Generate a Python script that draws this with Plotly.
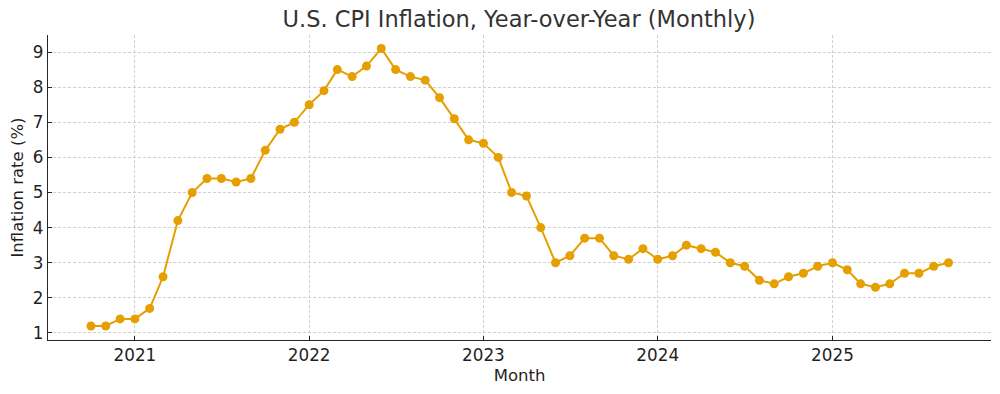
import plotly.graph_objects as go
import pandas as pd

months = pd.date_range("2020-10-01", "2025-09-01", freq="MS")
cpi_yoy = [1.2, 1.2, 1.4,
           1.4, 1.7, 2.6, 4.2, 5.0, 5.4, 5.4, 5.3, 5.4, 6.2, 6.8, 7.0,
           7.5, 7.9, 8.5, 8.3, 8.6, 9.1, 8.5, 8.3, 8.2, 7.7, 7.1, 6.5,
           6.4, 6.0, 5.0, 4.9, 4.0, 3.0, 3.2, 3.7, 3.7, 3.2, 3.1, 3.4,
           3.1, 3.2, 3.5, 3.4, 3.3, 3.0, 2.9, 2.5, 2.4, 2.6, 2.7, 2.9,
           3.0, 2.8, 2.4, 2.3, 2.4, 2.7, 2.7, 2.9, 3.0]
year_ticks = ["2021-01-01", "2022-01-01", "2023-01-01", "2024-01-01", "2025-01-01"]
year_labels = ["2021", "2022", "2023", "2024", "2025"]

color = "#E69F00"
font = "DejaVu Sans"

fig = go.Figure()
fig.add_trace(go.Scatter(
    x=months, y=cpi_yoy, mode="lines+markers",
    line=dict(color=color, width=2),
    marker=dict(color=color, size=9),
    showlegend=False,
))

fig.update_layout(
    width=1000, height=394,
    margin=dict(l=48, r=9, t=35, b=54),
    paper_bgcolor="white", plot_bgcolor="white",
    font=dict(family=font, size=16, color="#1f1f1f"),
    title=dict(text="U.S. CPI Inflation, Year-over-Year (Monthly)",
               x=0.519, xanchor="center", y=0.952, yanchor="middle",
               font=dict(size=22.5, color="#333333")),
)
fig.update_xaxes(
    range=["2020-07-03", "2025-11-29"],
    tickvals=year_ticks, ticktext=year_labels,
    tickfont=dict(size=16.8),
    ticks="inside", ticklen=4, tickcolor="#262626",
    showline=True, linecolor="#262626", linewidth=1.2,
    showgrid=True, gridcolor="#d0d0d0", griddash="3px,2px", gridwidth=0.8,
    zeroline=False, automargin=False,
    title=dict(text="Month", font=dict(size=16.5), standoff=5),
)
fig.update_yaxes(
    range=[0.8, 9.485], dtick=1, tick0=0,
    tickfont=dict(size=16.8),
    ticks="inside", ticklen=4, tickcolor="#262626",
    showline=True, linecolor="#262626", linewidth=1.2,
    showgrid=True, gridcolor="#d0d0d0", griddash="3px,2px", gridwidth=0.8,
    zeroline=False, automargin=False,
    title=dict(text="Inflation rate (%)", font=dict(size=16.5), standoff=5),
)

fig.write_html("out.html", config={"displayModeBar": False},
               post_script="document.body.style.margin='0';")
